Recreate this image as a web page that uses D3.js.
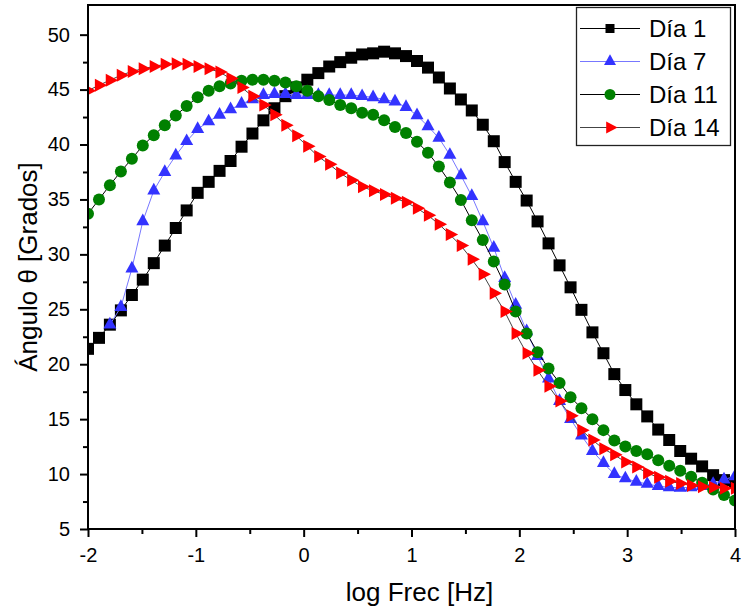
<!DOCTYPE html>
<html><head><meta charset="utf-8">
<script src="https://cdn.jsdelivr.net/npm/d3@7"></script>
<style>
html,body{margin:0;padding:0;background:#fff;}
svg{display:block;font-family:"Liberation Sans",Arial,sans-serif;}
</style></head>
<body><svg id="c" width="741" height="611"></svg>
<script>
const logFreq = [-2.000,-1.898,-1.797,-1.695,-1.593,-1.492,-1.390,-1.288,-1.186,-1.085,
 -0.983,-0.881,-0.780,-0.678,-0.576,-0.475,-0.373,-0.271,-0.169,-0.068,
 0.034,0.136,0.237,0.339,0.441,0.542,0.644,0.746,0.847,0.949,
 1.051,1.153,1.254,1.356,1.458,1.559,1.661,1.763,1.864,1.966,
 2.068,2.169,2.271,2.373,2.475,2.576,2.678,2.780,2.881,2.983,
 3.085,3.186,3.288,3.390,3.492,3.593,3.695,3.797,3.898,4.000];

const dia1 = [21.4,22.4,23.6,24.9,26.3,27.7,29.2,30.8,32.4,34.0,
 35.6,36.6,37.6,38.5,39.8,41.0,42.2,43.3,44.4,45.2,
 45.9,46.5,47.1,47.5,47.9,48.2,48.3,48.45,48.3,48.05,
 47.6,47.0,46.1,45.1,44.1,43.1,41.8,40.3,38.4,36.6,
 34.9,33.0,31.0,29.0,27.0,24.95,22.9,21.0,19.1,17.65,
 16.35,15.25,14.05,13.1,12.1,11.4,10.7,9.9,9.45,9.2];

const dia7 = [null,null,23.6,25.2,28.7,33.0,35.8,37.5,39.0,40.3,
 41.4,42.1,42.7,43.2,43.7,44.1,44.5,44.6,44.6,44.5,
 44.5,44.5,44.5,44.5,44.5,44.4,44.3,44.1,43.9,43.4,
 42.65,41.65,40.6,39.05,37.2,35.3,33.0,30.6,27.85,25.4,
 23.0,20.75,18.7,16.65,15.0,13.5,12.1,11.0,10.0,9.6,
 9.3,9.1,8.9,8.8,8.75,8.8,8.9,9.1,9.5,9.8];

const dia11 = [33.7,35.0,36.3,37.55,38.7,39.9,40.85,41.75,42.65,43.5,
 44.3,44.9,45.3,45.55,45.8,45.9,45.9,45.8,45.65,45.3,
 44.9,44.4,44.05,43.6,43.3,42.9,42.7,42.2,41.6,41.05,
 40.25,39.25,38.0,36.55,34.95,33.1,31.3,29.35,27.25,24.8,
 22.8,21.1,19.6,18.3,17.0,16.0,15.0,14.0,13.05,12.5,
 12.1,11.8,11.25,10.75,10.3,9.75,9.2,8.6,8.1,7.6];

const dia14 = [44.9,45.4,45.85,46.3,46.65,46.9,47.1,47.3,47.35,47.3,
 47.1,46.9,46.6,46.0,45.2,44.4,43.6,42.7,41.75,40.8,
 39.85,38.9,38.2,37.4,36.75,36.15,35.8,35.45,35.1,34.75,
 34.2,33.55,32.75,31.8,30.8,29.55,28.2,26.45,24.8,22.8,
 21.0,19.45,18.0,16.65,15.3,14.0,13.1,12.3,11.75,11.1,
 10.65,10.1,9.7,9.35,9.15,8.95,8.85,8.8,8.7,8.7];

const seriesNames = ["Día 1","Día 7","Día 11","Día 14"];
const xTicks = [-2,-1,0,1,2,3,4];
const yTicks = [5,10,15,20,25,30,35,40,45,50];
const xTitle = "log Frec [Hz]";
const yTitle = "Ángulo θ [Grados]";

const styles = [
  {values: dia1,  fill:"#000000", line:"#000000", sym:"square"},
  {values: dia7,  fill:"#3333ff", line:"#7777ff", sym:"triUp"},
  {values: dia11, fill:"#008000", line:"#000000", sym:"circle"},
  {values: dia14, fill:"#ff0000", line:"#444444", sym:"triRight"}
];

const L = 88, R = 735, T = 5, B = 529;
const svg = d3.select("#c");
const x = d3.scaleLinear().domain([-2,4]).range([L,R]);
const y = d3.scaleLinear().domain([5,52.7]).range([B,T]);

svg.append("defs").append("clipPath").attr("id","clip")
  .append("rect").attr("x",L).attr("y",T).attr("width",R-L).attr("height",B-T);

function symPath(kind, s){
  if(kind==="square") return `M${-s/2},${-s/2}h${s}v${s}h${-s}Z`;
  if(kind==="circle") return d3.symbol(d3.symbolCircle, Math.PI*(s/2)*(s/2))();
  if(kind==="triUp"){ const h=s*0.9; return `M0,${-2*h/3}L${s/2},${h/3}L${-s/2},${h/3}Z`; }
  if(kind==="triRight"){ const h=s*0.95; return `M${2*h/3},0L${-h/3},${s/2}L${-h/3},${-s/2}Z`; }
}

const plot = svg.append("g").attr("clip-path","url(#clip)");
styles.forEach((st,k)=>{
  const pts = logFreq.map((lx,i)=>({x:lx,y:st.values[i]})).filter(d=>d.y!=null);
  const line = d3.line().x(d=>x(d.x)).y(d=>y(d.y));
  plot.append("path").datum(pts).attr("d",line)
    .attr("fill","none").attr("stroke",st.line).attr("stroke-width",1);
  const size = st.sym==="circle" ? 12 : (st.sym==="square" ? 12 : 13);
  plot.append("g").selectAll("path").data(pts).join("path")
    .attr("d",symPath(st.sym,size))
    .attr("transform",d=>`translate(${x(d.x)},${y(d.y)})`)
    .attr("fill",st.fill);
});

// axes
const xAxis = svg.append("g").attr("transform",`translate(0,${B})`)
  .call(d3.axisBottom(x).tickValues(xTicks).tickFormat(d3.format("d")).tickSizeInner(8).tickSizeOuter(0).tickPadding(11));
const xMinor = svg.append("g").attr("transform",`translate(0,${B})`)
  .call(d3.axisBottom(x).tickValues([-1.5,-0.5,0.5,1.5,2.5,3.5]).tickFormat("").tickSizeInner(5).tickSizeOuter(0));
const yAxis = svg.append("g").attr("transform",`translate(${L},0)`)
  .call(d3.axisLeft(y).tickValues(yTicks).tickFormat(d3.format("d")).tickSizeInner(8).tickSizeOuter(0).tickPadding(10));
const yMinor = svg.append("g").attr("transform",`translate(${L},0)`)
  .call(d3.axisLeft(y).tickValues([7.5,12.5,17.5,22.5,27.5,32.5,37.5,42.5,47.5]).tickFormat("").tickSizeInner(5).tickSizeOuter(0));
[xAxis,xMinor,yAxis,yMinor].forEach(g=>{
  g.select(".domain").remove();
  g.selectAll(".tick line").attr("stroke","#000").attr("stroke-width",2);
  g.selectAll(".tick text").attr("fill","#000").style("font-size","20px").style("font-family","'Liberation Sans',Arial,sans-serif");
});
xAxis.selectAll(".tick text").text(d=>d<0?"-"+Math.abs(d):d);

svg.append("rect").attr("x",L).attr("y",T).attr("width",R-L).attr("height",B-T)
  .attr("fill","none").attr("stroke","#000").attr("stroke-width",2);

// titles
svg.append("text").attr("x",(L+R)/2+8).attr("y",601).attr("text-anchor","middle")
  .style("font-size","26px").attr("fill","#000").text(xTitle);
svg.append("text").attr("transform",`translate(37,${(T+B)/2}) rotate(-90)`).attr("text-anchor","middle")
  .style("font-size","26px").attr("fill","#000").text(yTitle);

// legend
const lg = svg.append("g");
lg.append("rect").attr("x",576.5).attr("y",7.5).attr("width",154).attr("height",138)
  .attr("fill","#fff").attr("stroke","#222").attr("stroke-width",1.3);
styles.forEach((st,k)=>{
  const cy = 28.5 + k*33;
  lg.append("line").attr("x1",580).attr("x2",640).attr("y1",cy).attr("y2",cy)
    .attr("stroke",st.line).attr("stroke-width",1);
  const size = st.sym==="circle" ? 11 : (st.sym==="square" ? 9 : 12);
  lg.append("path").attr("d",symPath(st.sym,size)).attr("transform",`translate(610,${cy})`).attr("fill",st.fill);
  lg.append("text").attr("x",649).attr("y",cy).attr("dy","0.36em")
    .style("font-size","24px").attr("fill","#000").text(seriesNames[k]);
});
</script></body></html>
